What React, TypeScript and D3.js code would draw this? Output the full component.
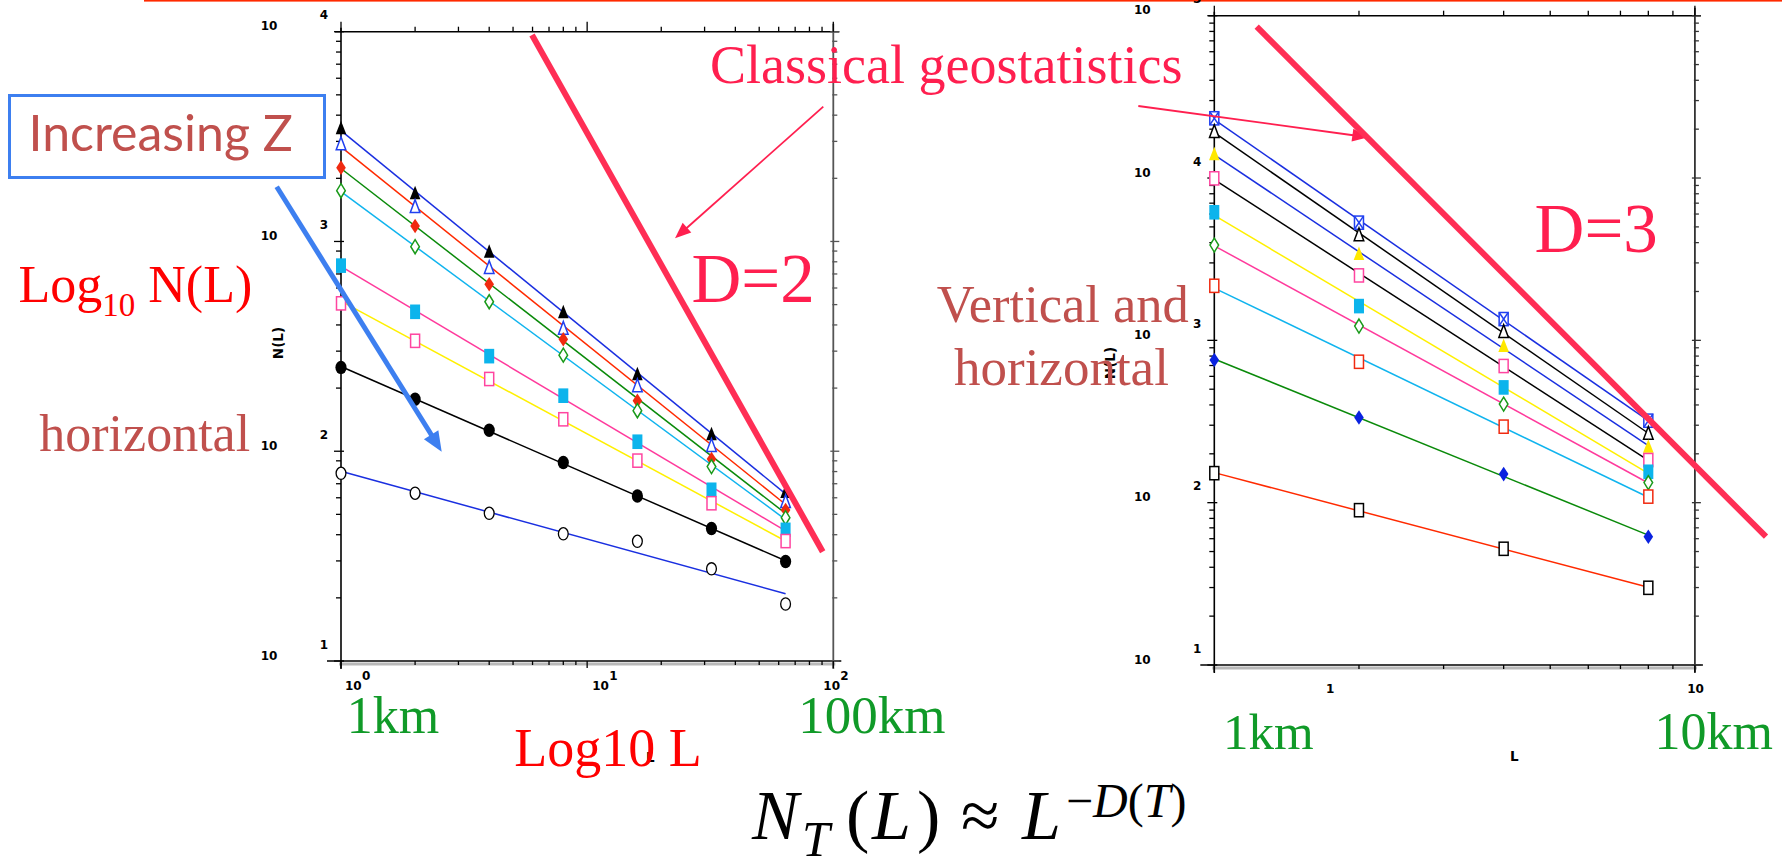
import React from 'react';
import * as d3 from 'd3';

const W = 1782;
const H = 862;

// ---------- LEFT PANEL DATA (horizontal) ----------
const leftL = [1, 2, 4, 8, 16, 32, 64];
const leftS1 = [3467, 1698, 893, 460, 233, 120.5, 64.0];   // filled black triangle
const leftS2 = [2917, 1466, 750, 385, 205, 106.4, 57.5];   // open blue triangle
const leftS3 = [2249, 1186, 625, 342, 174, 91.8, 52.5];    // filled red diamond
const leftS4 = [1746, 944, 516, 287, 156, 84.5, 48.2];     // open green diamond
const leftS5 = [767, 462, 284, 184, 111, 65.5, 42.2];      // filled cyan square
const leftS6 = [507, 336, 221, 142, 90.2, 56.5, 37.3];     // open pink square
const leftS7 = [251, 177, 126, 88.3, 61.2, 42.8, 29.8];    // filled black circle
const leftS8 = [78.5, 63.1, 50.6, 40.4, 37.2, 27.5, 18.7]; // open black circle

// ---------- RIGHT PANEL DATA (vertical and horizontal) ----------
const rightL = [1, 2, 4, 8];
const rightA = [23330, 5309, 1352, 320];
const rightB = [19280, 4457, 1130, 267];
const rightC = [14000, 3404, 923, 221];
const rightD = [9954, 2512, 695, 183];
const rightE = [6152, 1626, 513, 155];
const rightF = [3864, 1225, 405, 133];
const rightG = [2168, 738, 294, 109];
const rightH = [757, 335, 150, 61.7];
const rightI = [152, 89.9, 52.0, 29.9];

// tick labels
const leftYExps = [1, 2, 3, 4];
const leftXExps = [0, 1, 2];
const rightYExps = [1, 2, 3, 4, 5];
const rightXLabels = ['1', '10'];
const rightXValues = [1, 10];

// ---------- styles ----------
const C = {
  blue: '#1a2fe0',
  red: '#ff2a00',
  green: '#0a8a0a',
  cyan: '#10b4ee',
  pink: '#ff3a9c',
  yellow: '#fff000',
  black: '#000000',
  mBlue: '#2040f0',
  mRed: '#f02a10',
  mGreen: '#1a9a1a',
  mCyan: '#0cb4ec',
  mPink: '#ff45a0',
  mYellow: '#ffe800',
};

const leftSeries = [
  { v: leftS1, m: 'triF', mc: C.black, lc: C.blue },
  { v: leftS2, m: 'triO', mc: C.mBlue, lc: C.red },
  { v: leftS3, m: 'diaF', mc: C.mRed, lc: C.green },
  { v: leftS4, m: 'diaO', mc: C.mGreen, lc: C.cyan },
  { v: leftS5, m: 'sqF', mc: C.mCyan, lc: C.pink },
  { v: leftS6, m: 'sqO', mc: C.mPink, lc: C.yellow },
  { v: leftS7, m: 'cirF', mc: C.black, lc: C.black },
  { v: leftS8, m: 'cirO', mc: C.black, lc: C.blue },
];

const rightSeries = [
  { v: rightA, m: 'boxX', mc: C.mBlue, lc: C.blue },
  { v: rightB, m: 'triO', mc: C.black, lc: C.black },
  { v: rightC, m: 'triF', mc: C.mYellow, lc: C.blue },
  { v: rightD, m: 'sqO', mc: C.mPink, lc: C.black },
  { v: rightE, m: 'sqF', mc: C.mCyan, lc: C.yellow },
  { v: rightF, m: 'diaO', mc: C.mGreen, lc: C.pink },
  { v: rightG, m: 'sqO', mc: C.mRed, lc: C.cyan },
  { v: rightH, m: 'diaF', mc: '#0a22e0', lc: C.green },
  { v: rightI, m: 'sqO', mc: C.black, lc: C.red },
];

// scales
const xL = d3.scaleLog().domain([1, 100]).range([341, 833.3]);
const yL = d3.scaleLog().domain([10, 1e4]).range([661, 31.7]);
const xR = d3.scaleLog().domain([1, 10]).range([1214.3, 1694.9]);
const yR = d3.scaleLog().domain([10, 1e5]).range([665, 15.7]);

function fit(xs: number[], ys: number[]) {
  const lx = xs.map(Math.log10);
  const ly = ys.map(Math.log10);
  const mx = d3.mean(lx) as number;
  const my = d3.mean(ly) as number;
  let sxy = 0, sxx = 0;
  lx.forEach((x, i) => { sxy += (x - mx) * (ly[i] - my); sxx += (x - mx) * (x - mx); });
  const b = sxy / sxx;
  const a = my - b * mx;
  const x0 = xs[0], x1 = xs[xs.length - 1];
  return [[x0, Math.pow(10, a + b * Math.log10(x0))], [x1, Math.pow(10, a + b * Math.log10(x1))]];
}

function Marker({ t, x, y, c }: { t: string; x: number; y: number; c: string }) {
  const sw = 1.5;
  switch (t) {
    case 'triF':
      return <polygon points={`${x},${y - 7.5} ${x - 5.3},${y + 6} ${x + 5.3},${y + 6}`} fill={c} />;
    case 'triO':
      return <polygon points={`${x},${y - 7} ${x - 4.8},${y + 5.8} ${x + 4.8},${y + 5.8}`} fill="#fff" stroke={c} strokeWidth={sw} />;
    case 'diaF':
      return <polygon points={`${x},${y - 7.3} ${x + 4.8},${y} ${x},${y + 7.3} ${x - 4.8},${y}`} fill={c} />;
    case 'diaO':
      return <polygon points={`${x},${y - 7} ${x + 4.3},${y} ${x},${y + 7} ${x - 4.3},${y}`} fill="#fff" stroke={c} strokeWidth={sw} />;
    case 'sqF':
      return <rect x={x - 5} y={y - 7.3} width={10} height={14.6} fill={c} />;
    case 'sqO':
      return <rect x={x - 4.5} y={y - 6.6} width={9} height={13.2} fill="#fff" stroke={c} strokeWidth={sw} />;
    case 'cirF':
      return <ellipse cx={x} cy={y} rx={5.6} ry={6.7} fill={c} />;
    case 'cirO':
      return <ellipse cx={x} cy={y} rx={4.9} ry={6.1} fill="#fff" stroke={c} strokeWidth={1.3} />;
    case 'boxX':
      return (
        <g stroke={c} strokeWidth={sw} fill="#fff">
          <rect x={x - 4.5} y={y - 6.6} width={9} height={13.2} />
          <line x1={x - 4.5} y1={y - 6.6} x2={x + 4.5} y2={y + 6.6} />
          <line x1={x + 4.5} y1={y - 6.6} x2={x - 4.5} y2={y + 6.6} />
        </g>
      );
    default:
      return null;
  }
}

const isMajor = (v: number) => Math.abs(Math.log10(v) - Math.round(Math.log10(v))) < 1e-9;

function Frame({ xs, ys, rightColor }: { xs: any; ys: any; rightColor: string }) {
  const [x0, x1] = xs.range();
  const [y1, y0] = ys.range();
  const xt = xs.ticks();
  const yt = ys.ticks();
  return (
    <g>
      <line x1={x0 - 2} x2={x1 + 2} y1={y1 + 3} y2={y1 + 3} stroke="#b8b8b8" strokeWidth={3} />
      <line x1={x0 - 14} x2={x1 + 8} y1={y1} y2={y1} stroke="#000" strokeWidth={1.6} />
      <line x1={x0 - 6} x2={x1 + 6} y1={y0} y2={y0} stroke="#000" strokeWidth={1.6} />
      <line x1={x0} x2={x0} y1={y0 - 4} y2={y1 + 8} stroke="#000" strokeWidth={1.6} />
      <line x1={x1} x2={x1} y1={y0 - 8} y2={y1 + 8} stroke={rightColor} strokeWidth={1.8} />
      {yt.map((v: number, i: number) => {
        const y = ys(v);
        const mj = isMajor(v);
        return (
          <g key={'y' + i} stroke="#000" strokeWidth={1.3}>
            <line x1={x0 - (mj ? 7 : 5)} x2={x0 + (mj ? 3 : 0)} y1={y} y2={y} />
            <line x1={x1 - (mj ? 3 : 1)} x2={x1 + (mj ? 6 : 4)} y1={y} y2={y} stroke={rightColor} />
          </g>
        );
      })}
      {xt.map((v: number, i: number) => {
        const x = xs(v);
        const mj = isMajor(v);
        return (
          <g key={'x' + i} stroke="#000" strokeWidth={1.3}>
            <line x1={x} x2={x} y1={y0 - (mj ? 10 : 5)} y2={y0} />
            <line x1={x} x2={x} y1={y1} y2={y1 + (mj ? 7 : 4)} />
          </g>
        );
      })}
    </g>
  );
}

const tickFont = "'DejaVu Sans', Verdana, sans-serif";

function YLabels({ ys, axisX, exps }: { ys: any; axisX: number; exps: number[] }) {
  return (
    <g fontFamily={tickFont} fontWeight="bold" fontSize={12} fill="#000">
      {exps.map((p) => {
        const y = ys(Math.pow(10, p));
        return (
          <g key={p}>
            <text x={axisX - 72} y={y - 1.5} textAnchor="middle">10</text>
            <text x={axisX - 17} y={y - 12.5} textAnchor="middle">{p}</text>
          </g>
        );
      })}
    </g>
  );
}

function Series({ xsData, list, xs, ys }: { xsData: number[]; list: any[]; xs: any; ys: any }) {
  return (
    <g>
      {list.map((s, i) => {
        const [[a, b], [c, d]] = fit(xsData, s.v);
        return <line key={'l' + i} x1={xs(a)} y1={ys(b)} x2={xs(c)} y2={ys(d)} stroke={s.lc} strokeWidth={1.5} />;
      })}
      {list.map((s, i) => (
        <g key={'m' + i}>
          {s.v.map((v: number, j: number) => (
            <Marker key={j} t={s.m} x={xs(xsData[j])} y={ys(v)} c={s.mc} />
          ))}
        </g>
      ))}
    </g>
  );
}

function arrowHead(x1: number, y1: number, x2: number, y2: number, len: number, half: number) {
  const dx = x2 - x1, dy = y2 - y1;
  const L = Math.hypot(dx, dy);
  const ux = dx / L, uy = dy / L;
  const bx = x2 - ux * len, by = y2 - uy * len;
  return `${x2},${y2} ${bx - uy * half},${by + ux * half} ${bx + uy * half},${by - ux * half}`;
}

const serif = "'Liberation Serif', 'Times New Roman', serif";
const PINK = '#ff1f4f';
const BROWN = '#c0504d';
const GREEN = '#109a28';

export default function App() {
  const leftXLabelOffsets = [4, 5, -10];
  return (
    <svg width={W} height={H} viewBox={`0 0 ${W} ${H}`} style={{ position: 'absolute', left: 0, top: 0, background: '#fff' }}>
      <rect x={0} y={0} width={W} height={H} fill="#fff" />
      <rect x={144} y={0} width={W - 144} height={1.6} fill="#ff2a00" />

      {/* LEFT CHART */}
      <Frame xs={xL} ys={yL} rightColor="#555" />
      <YLabels ys={yL} axisX={341} exps={leftYExps} />
      <g fontFamily={tickFont} fontWeight="bold" fill="#000">
        {leftXExps.map((p, i) => {
          const x = xL(Math.pow(10, p)) + leftXLabelOffsets[i];
          return (
            <g key={p}>
              <text x={x} y={690} fontSize={12}>10</text>
              <text x={x + 17} y={680} fontSize={12}>{p}</text>
            </g>
          );
        })}
        <text x={278} y={343} fontSize={13.5} textAnchor="middle" dy={5} transform="rotate(-90 278 343)">N(L)</text>
        <text x={646} y={762} fontSize={13.5}>L</text>
      </g>
      <Series xsData={leftL} list={leftSeries} xs={xL} ys={yL} />

      {/* RIGHT CHART */}
      <Frame xs={xR} ys={yR} rightColor="#333" />
      <YLabels ys={yR} axisX={1214.3} exps={rightYExps} />
      <g fontFamily={tickFont} fontWeight="bold" fill="#000">
        {rightXValues.map((v, i) => (
          <text key={i} x={xR(v) + (i === 0 ? 116 : 0.6)} y={693} fontSize={12} textAnchor="middle">{rightXLabels[i]}</text>
        ))}
        <text x={1110} y={363} fontSize={13.5} textAnchor="middle" transform="rotate(-90 1110 363)" dy={5}>N(L)</text>
        <text x={1510} y={761} fontSize={13.5}>L</text>
      </g>
      <Series xsData={rightL} list={rightSeries} xs={xR} ys={yR} />

      {/* Annotations */}
      <rect x={9.5} y={95.5} width={315} height={82} fill="none" stroke="#3d7ff0" strokeWidth={3} />
      <text x={28.5} y={150.7} fontFamily="Lato, 'Open Sans', sans-serif" fontSize={50} fill={BROWN}>Increasing Z</text>

      <line x1={276.7} y1={186.7} x2={434} y2={439} stroke="#3d7ff0" strokeWidth={5} />
      <polygon points={arrowHead(276.7, 186.7, 441.7, 451.7, 20, 8.5)} fill="#3d7ff0" />

      <text x={18.5} y={301.7} fontFamily={serif} fontSize={52} fill="#ff0000">
        Log<tspan fontSize={33} dy={14.5}>10</tspan><tspan dy={-14.5}> N(L)</tspan>
      </text>
      <text x={39.3} y={450.7} fontFamily={serif} fontSize={52} fill={BROWN}>horizontal</text>

      <text x={710} y={83.3} fontFamily={serif} fontSize={54} fill={PINK}>Classical geostatistics</text>
      <line x1={823.3} y1={106.7} x2={685} y2={229.5} stroke={PINK} strokeWidth={1.8} />
      <polygon points={arrowHead(823.3, 106.7, 675, 238.3, 16, 6.5)} fill={PINK} />
      <line x1={1138.3} y1={106} x2={1355} y2={135.5} stroke={PINK} strokeWidth={1.8} />
      <polygon points={arrowHead(1138.3, 106, 1368.3, 137.3, 16, 6.5)} fill={PINK} />

      <line x1={532} y1={35} x2={822.7} y2={551.7} stroke="#ff2e55" strokeWidth={6} />
      <text x={691.5} y={301.7} fontFamily={serif} fontSize={69} fill={PINK}>D=2</text>

      <line x1={1256.7} y1={26.7} x2={1766} y2={536.7} stroke="#ff2e55" strokeWidth={6} />
      <text x={1534.6} y={251.7} fontFamily={serif} fontSize={69} fill={PINK}>D=3</text>

      <text x={936.7} y={321.7} fontFamily={serif} fontSize={52.5} fill={BROWN}>Vertical and</text>
      <text x={954} y={385} fontFamily={serif} fontSize={53} fill={BROWN}>horizontal</text>

      <g fontFamily={serif} fill={GREEN}>
        <text x={346.7} y={733.3} fontSize={52}>1km</text>
        <text x={798.3} y={733.3} fontSize={53}>100km</text>
        <text x={1223} y={749.3} fontSize={51}>1km</text>
        <text x={1654.5} y={749.3} fontSize={52}>10km</text>
      </g>
      <text x={514.3} y={766} fontFamily={serif} fontSize={54} fill="#ff0000">Log10 L</text>

      {/* formula */}
      <text y={839} fontFamily={serif} fontSize={70} fill="#000">
        <tspan x={752} fontStyle="italic">N</tspan>
        <tspan x={802} dy={17} fontSize={50} fontStyle="italic">T</tspan>
        <tspan x={846} dy={-17}>(</tspan>
        <tspan x={872} fontStyle="italic">L</tspan>
        <tspan x={917}>)</tspan>
        <tspan x={961}>≈</tspan>
        <tspan x={1022} fontStyle="italic">L</tspan>
        <tspan x={1066} dy={-22} fontSize={48}>−</tspan>
        <tspan fontSize={48} fontStyle="italic">D</tspan>
        <tspan fontSize={48}>(</tspan>
        <tspan fontSize={48} fontStyle="italic">T</tspan>
        <tspan fontSize={48}>)</tspan>
      </text>
    </svg>
  );
}
